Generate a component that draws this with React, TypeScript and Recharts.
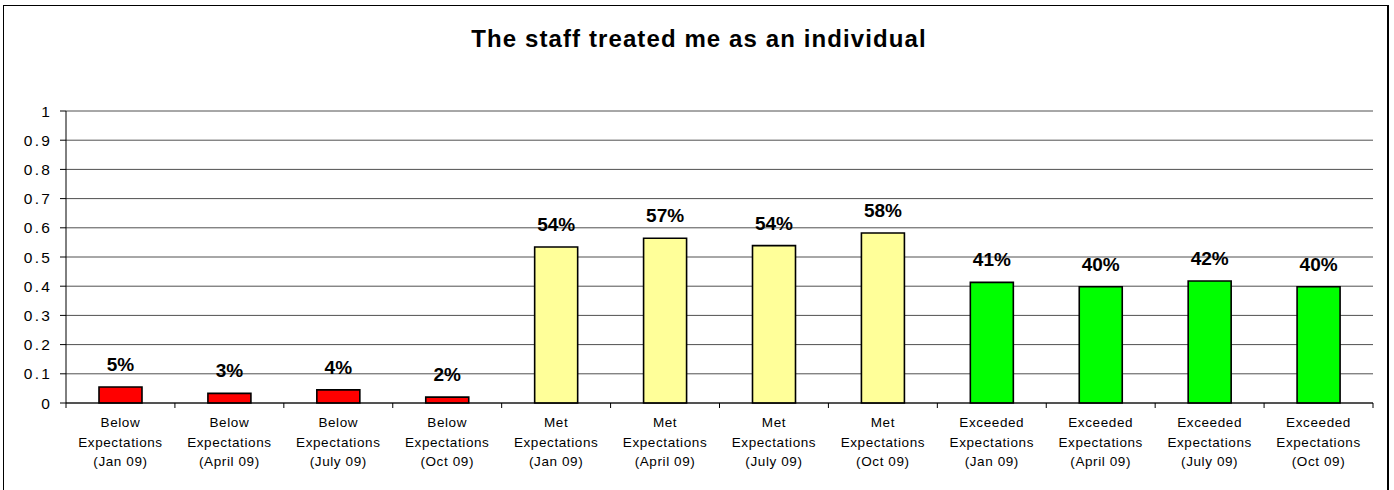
import { BarChart, Bar, XAxis, YAxis, CartesianGrid, Cell, LabelList } from "recharts";

const categories = [
  "Below|Expectations|(Jan 09)",
  "Below|Expectations|(April 09)",
  "Below|Expectations|(July 09)",
  "Below|Expectations|(Oct 09)",
  "Met|Expectations|(Jan 09)",
  "Met|Expectations|(April 09)",
  "Met|Expectations|(July 09)",
  "Met|Expectations|(Oct 09)",
  "Exceeded|Expectations|(Jan 09)",
  "Exceeded|Expectations|(April 09)",
  "Exceeded|Expectations|(July 09)",
  "Exceeded|Expectations|(Oct 09)",
];
const values = [0.055, 0.033, 0.045, 0.02, 0.534, 0.564, 0.539, 0.582, 0.413, 0.398, 0.418, 0.398];
const valueLabels = ["5%", "3%", "4%", "2%", "54%", "57%", "54%", "58%", "41%", "40%", "42%", "40%"];
const yTicks = [0, 0.1, 0.2, 0.3, 0.4, 0.5, 0.6, 0.7, 0.8, 0.9, 1];

const groupColors: Record<string, string> = {
  Below: "#ff0000",
  Met: "#ffff99",
  Exceeded: "#00ff00",
};

const data = categories.map((c, i) => ({
  name: c,
  value: values[i],
  label: valueLabels[i],
}));

const font = "Arial, 'Liberation Sans', sans-serif";

function CategoryTick(props: any) {
  const { x, y, payload, index } = props;
  const lines = String(payload.value).split("|");
  const half = payload.offset || 0;
  return (
    <g>
      <line x1={x - half} x2={x - half} y1={y - 8} y2={y - 3} stroke="#000" />
      {index === categories.length - 1 && (
        <line x1={x + half} x2={x + half} y1={y - 8} y2={y - 3} stroke="#000" />
      )}
      <text
        x={x}
        y={y}
        textAnchor="middle"
        fontSize={13.5}
        fontFamily={font}
        letterSpacing={0.6}
        fill="#000"
      >
        {lines.map((l, i) => (
          <tspan key={i} x={x} y={y + 16 + i * 19.5}>
            {l}
          </tspan>
        ))}
      </text>
    </g>
  );
}

export default function App() {
  return (
    <div
      style={{
        position: "absolute",
        left: 0,
        top: 0,
        width: 1394,
        height: 490,
        overflow: "hidden",
        background: "#fff",
        fontFamily: font,
      }}
    >
      <div
        style={{
          position: "absolute",
          left: 3,
          top: 5,
          width: 1383,
          height: 500,
          borderLeft: "1px solid #000",
          borderTop: "1px solid #000",
          borderRight: "2px solid #000",
        }}
      />
      <div
        style={{
          position: "absolute",
          left: 0,
          width: 1394,
          top: 27,
          textAlign: "center",
          fontSize: 24,
          fontWeight: "bold",
          letterSpacing: 1.1,
          lineHeight: "24px",
          paddingLeft: 2,
        }}
      >
        The staff treated me as an individual
      </div>
      <BarChart
        width={1394}
        height={490}
        data={data}
        margin={{ top: 111, right: 21, bottom: 0, left: 0 }}
        barCategoryGap={0}
        style={{ position: "absolute", left: 0, top: 0 }}
      >
        <CartesianGrid vertical={false} stroke="#505050" strokeWidth={1} />
        <XAxis
          dataKey="name"
          height={87}
          interval={0}
          axisLine={{ stroke: "#000" }}
          tickLine={false}
          tick={<CategoryTick />}
        />
        <YAxis
          width={66}
          domain={[0, 1]}
          ticks={yTicks}
          interval={0}
          tickSize={6}
          tickMargin={8}
          axisLine={{ stroke: "#000" }}
          tickLine={{ stroke: "#000" }}
          tick={{ fill: "#000", fontSize: 15.5, fontFamily: font, letterSpacing: 2.2 }}
        />
        <YAxis
          yAxisId="right"
          orientation="right"
          width={0}
          domain={[0, 1]}
          tick={false}
          tickLine={false}
          axisLine={{ stroke: "#808080" }}
        />
        <Bar dataKey="value" barSize={43} stroke="#000" strokeWidth={1.6} isAnimationActive={false}>
          {data.map((d, i) => (
            <Cell key={i} fill={groupColors[d.name.split("|")[0]]} />
          ))}
          <LabelList
            dataKey="label"
            position="top"
            offset={16}
            fill="#000"
            fontSize={19}
            fontWeight="bold"
            fontFamily={font}
          />
        </Bar>
      </BarChart>
    </div>
  );
}
